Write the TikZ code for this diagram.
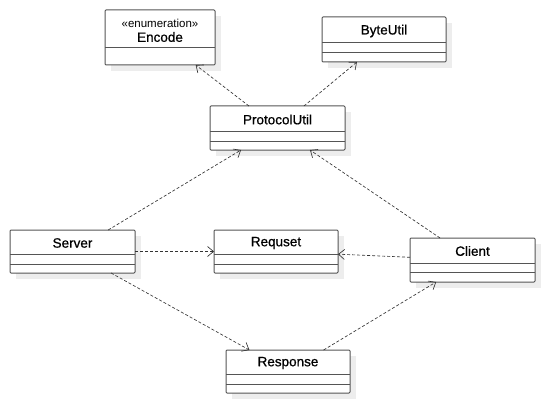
\documentclass[tikz,border=0pt]{standalone}
\usepackage{fontspec}
\setmainfont{Liberation Sans}
\newfontfamily\namefont[FakeBold=0.6]{Liberation Sans}
\usetikzlibrary{arrows.meta}
\definecolor{boxline}{HTML}{555555}
\definecolor{shadowc}{HTML}{EDEDED}
\definecolor{linec}{HTML}{333333}
\tikzset{
  classbox/.style={draw=boxline, line width=1pt, fill=white, rounded corners=1pt,
    anchor=north west, inner sep=0pt, outer sep=0pt},
  sepline/.style={draw=boxline, line width=1pt},
  shadowbox/.style={fill=shadowc},
  dep/.style={draw=linec, line width=0.65pt, dash pattern=on 3pt off 2pt,
    -{Straight Barb[length=6pt,width=10pt,line width=0.65pt]}},
  clsname/.style={font=\namefont\fontsize{13.5}{15}\selectfont, text=black, inner sep=0pt},
  stereo/.style={font=\fontsize{11.5}{13}\selectfont, text=black, inner sep=0pt}
}
% #1 name, #2 x, #3 y, #4 width, #5 height
\newcommand\umlbox[5]{%
  \fill[shadowbox] (#2+6,#3+6) rectangle ++(#4,#5);
  \node[classbox, minimum width=#4pt, minimum height=#5pt] (#1) at (#2,#3) {};
}
\newcommand\umlsep[3]{\draw[sepline] (#1,#3) -- (#1+#2,#3);}
\begin{document}
\begin{tikzpicture}[x=1pt,y=-1pt]
\useasboundingbox[fill=white] (0,0) rectangle (544,404);

% Encode
\umlbox{encode}{105}{10}{110}{55}
\umlsep{105}{110}{48}
\node[stereo] (encodeS) at (160,23) {«enumeration»};
\node[clsname] (encodeT) at (160,37) {Encode};

% ByteUtil
\umlbox{byteutil}{322}{17}{124}{45}
\umlsep{322}{124}{43}
\umlsep{322}{124}{53}
\node[clsname] (byteutilT) at (384,31) {ByteUtil};

% ProtocolUtil
\umlbox{protocol}{210}{106}{135}{44}
\umlsep{210}{135}{131}
\umlsep{210}{135}{141}
\node[clsname] (protocolT) at (277.5,119.5) {ProtocolUtil};

% Server
\umlbox{server}{10}{230}{125}{43}
\umlsep{10}{125}{254}
\umlsep{10}{125}{264}
\node[clsname] (serverT) at (72.5,243) {Server};

% Requset
\umlbox{requset}{214}{230}{124}{43}
\umlsep{214}{124}{254}
\umlsep{214}{124}{264}
\node[clsname] (requsetT) at (276,243) {Requset};

% Client
\umlbox{client}{410}{238}{125}{44}
\umlsep{410}{125}{263}
\umlsep{410}{125}{272}
\node[clsname] (clientT) at (472.5,251) {Client};

% Response
\umlbox{response}{226}{350}{124}{43}
\umlsep{226}{124}{374}
\umlsep{226}{124}{384}
\node[clsname] (responseT) at (288,363) {Response};

% dependencies
\draw[dep] (protocol) -- (encode);
\draw[dep] (protocol) -- (byteutil);
\draw[dep] (server) -- (protocol);
\draw[dep] (client) -- (protocol);
\draw[dep] (server) -- (requset);
\draw[dep] (client) -- (requset);
\draw[dep] (server) -- (response);
\draw[dep] (response) -- (client);
\end{tikzpicture}
\end{document}
